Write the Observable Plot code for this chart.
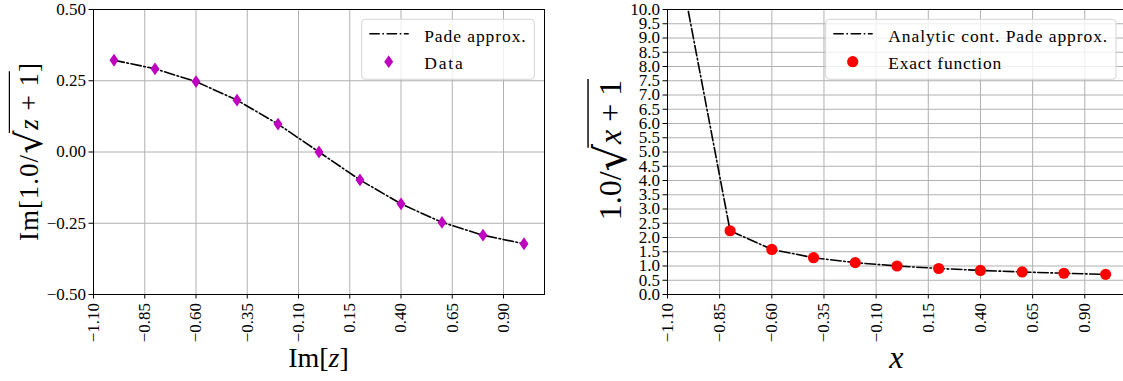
<!DOCTYPE html>
<html>
<head>
<meta charset="utf-8">
<script src="https://cdn.jsdelivr.net/npm/d3@7"></script>
<script src="https://cdn.jsdelivr.net/npm/@observablehq/plot@0.6"></script>
<style>
  body { margin: 0; background: #fff; }
  #fig { position: relative; width: 1123px; height: 381px; overflow: hidden; background: #fff; }
  #fig svg { position: absolute; top: 0; overflow: visible; }
  #fig text { font-family: "Liberation Serif", "Times New Roman", serif; }
  #fig tspan.rad { font-family: "DejaVu Serif", serif; }
</style>
</head>
<body>
<div id="fig"></div>
<script>
// ---- data: imaginary-axis sample (left panel) ----
const imZ    = [-1.0, -0.8, -0.6, -0.4, -0.2, 0.0, 0.2, 0.4, 0.6, 0.8, 1.0];
const imData = [0.322, 0.292, 0.247, 0.182, 0.098, 0.0, -0.098, -0.182, -0.247, -0.292, -0.322];
const imPade = [0.322, 0.292, 0.247, 0.182, 0.098, 0.0, -0.098, -0.182, -0.247, -0.292, -0.322];

// ---- data: real-axis continuation (right panel) ----
const xExact    = [-0.8, -0.6, -0.4, -0.2, 0.0, 0.2, 0.4, 0.6, 0.8, 1.0];
const exactVals = [2.236, 1.581, 1.291, 1.118, 1.0, 0.913, 0.845, 0.791, 0.745, 0.707];
const xPade     = [-1.0, -0.8, -0.6, -0.4, -0.2, 0.0, 0.2, 0.4, 0.6, 0.8, 1.0];
const padeVals  = [9.93, 2.236, 1.581, 1.291, 1.118, 1.0, 0.913, 0.845, 0.791, 0.745, 0.707];

// ---- tick labels ----
const xTicks      = [-1.10, -0.85, -0.60, -0.35, -0.10, 0.15, 0.40, 0.65, 0.90];
const leftYTicks  = [-0.50, -0.25, 0.00, 0.25, 0.50];
const rightYTicks = [0.0, 0.5, 1.0, 1.5, 2.0, 2.5, 3.0, 3.5, 4.0, 4.5, 5.0, 5.5, 6.0, 6.5,
                     7.0, 7.5, 8.0, 8.5, 9.0, 9.5, 10.0];

// ---- legend labels ----
const leftLegend  = ["Pade approx.", "Data"];
const rightLegend = ["Analytic cont. Pade approx.", "Exact function"];

const FONT = "Liberation Serif, Times New Roman, serif";
const DASH = "10.5,2.6,1.6,2.6";
const GRID = "#b0b0b0";
const MAGENTA = "#bf00bf";
const RED = "#ff0000";

const imRows = imZ.map((z, i) => ({z, data: imData[i], pade: imPade[i]}));
const exactRows = xExact.map((x, i) => ({x, y: exactVals[i]}));
const padeRows = xPade.map((x, i) => ({x, y: padeVals[i]}));

// narrow diamond marker (taller than wide)
const thinDiamond = {
  draw(ctx, size) {
    const r = Math.sqrt(size / Math.PI);
    const w = r * 0.7;
    ctx.moveTo(0, -r);
    ctx.lineTo(w, 0);
    ctx.lineTo(0, r);
    ctx.lineTo(-w, 0);
    ctx.closePath();
  }
};

const fmt2 = d3.format(".2f");
const fmt1 = d3.format(".1f");

function axes(yTicks, yFmt) {
  return [
    Plot.gridX(xTicks, {stroke: GRID, strokeOpacity: 1, strokeWidth: 1}),
    Plot.gridY(yTicks, {stroke: GRID, strokeOpacity: 1, strokeWidth: 1}),
    Plot.axisX(xTicks, {tickFormat: fmt2, tickRotate: -90, tickSize: 4.5, tickPadding: 4,
                        fontSize: 17, fontFamily: FONT, label: null, stroke: "#000"}),
    Plot.axisY(yTicks, {tickFormat: yFmt, tickSize: 4.5, tickPadding: 3,
                        fontSize: 17, fontFamily: FONT, label: null, stroke: "#000"}),
    Plot.frame({stroke: "#000", strokeWidth: 1})
  ];
}

const left = Plot.plot({
  width: 560, height: 381,
  marginLeft: 93, marginRight: 16, marginTop: 9, marginBottom: 87,
  style: {fontFamily: FONT, fontSize: "17px", color: "#000", background: "transparent"},
  x: {domain: [-1.1, 1.1]},
  y: {domain: [-0.5, 0.5]},
  marks: [
    ...axes(leftYTicks, fmt2),
    Plot.line(imRows, {x: "z", y: "pade", stroke: "#000", strokeWidth: 1.6, strokeDasharray: DASH}),
    Plot.dot(imRows, {x: "z", y: "data", symbol: thinDiamond, r: 6.4, fill: MAGENTA, stroke: "none"})
  ]
});

const right = Plot.plot({
  width: 580, height: 381,
  marginLeft: 107, marginRight: 14, marginTop: 9, marginBottom: 87,
  style: {fontFamily: FONT, fontSize: "17px", color: "#000", background: "transparent"},
  x: {domain: [-1.1, 1.1]},
  y: {domain: [0, 10]},
  marks: [
    ...axes(rightYTicks, fmt1),
    Plot.line(padeRows, {x: "x", y: "y", stroke: "#000", strokeWidth: 1.6, strokeDasharray: DASH}),
    Plot.dot(exactRows, {x: "x", y: "y", r: 5.6, fill: RED, stroke: "none"})
  ]
});

const fig = document.getElementById("fig");
left.style.left = "0px";
right.style.left = "560px";
fig.append(left, right);

// ---- legend boxes ----
function legend(svgNode, bx, entries, textLengths) {
  const svg = d3.select(svgNode);
  const g = svg.append("g").attr("text-anchor", "start");
  const by = 19.3, bw = entries.w, bh = 60;
  g.append("rect").attr("x", bx).attr("y", by).attr("width", bw).attr("height", bh)
    .attr("rx", 3.5).attr("fill", "#fff").attr("fill-opacity", 0.8)
    .attr("stroke", "#d5d5d5").attr("stroke-width", 1);
  // line sample
  g.append("line").attr("x1", bx + 7.6).attr("x2", bx + 47).attr("y1", by + 14.5).attr("y2", by + 14.5)
    .attr("stroke", "#000").attr("stroke-width", 1.6).attr("stroke-dasharray", DASH);
  // marker sample
  const cx = bx + 27, cy = by + 42.4;
  if (entries.marker === "diamond") {
    const r = 6.4, w = r * 0.7;
    g.append("path").attr("d", `M${cx},${cy - r}L${cx + w},${cy}L${cx},${cy + r}L${cx - w},${cy}Z`)
      .attr("fill", MAGENTA);
  } else {
    g.append("circle").attr("cx", cx).attr("cy", cy).attr("r", 5.6).attr("fill", RED);
  }
  entries.labels.forEach((t, i) => {
    g.append("text").attr("x", bx + 62.5).attr("y", by + 22.4 + i * 27)
      .attr("text-anchor", "start")
      .attr("font-size", 17.5).attr("fill", "#000")
      .attr("textLength", textLengths[i]).attr("lengthAdjust", "spacing")
      .text(t);
  });
}
legend(left, 361.7, {w: 172.6, marker: "diamond", labels: leftLegend}, [101.5, 38.5]);
legend(right, 265.7, {w: 290.3, marker: "circle", labels: rightLegend}, [219, 113]);

// ---- math axis labels ----
function mathLabel(svgNode, {x, y, rotate = 0, size, parts, over, spacing = 0}) {
  const g = d3.select(svgNode).append("g").attr("transform", `translate(${x},${y}) rotate(${rotate})`);
  const t = g.append("text").attr("text-anchor", "middle")
    .attr("font-size", size).attr("fill", "#000").attr("letter-spacing", spacing);
  let idx = 0, radIdx = null, lastOver = null;
  let carry = 0;
  for (const p of parts) {
    const s = t.append("tspan").text(p.t);
    if (p.italic) s.attr("font-style", "italic");
    let dy = -carry;
    carry = 0;
    if (p.rad) {
      s.attr("class", "rad").attr("font-size", size * p.rad.scale);
      dy += p.rad.dy;
      carry = p.rad.dy;
      radIdx = idx;
    }
    if (dy) s.attr("dy", dy);
    if (p.over) lastOver = idx + p.t.length - 1;
    idx += p.t.length;
  }
  if (radIdx != null && lastOver != null) {
    const node = t.node();
    const x0 = node.getEndPositionOfChar(radIdx).x - size * 0.12;
    const x1 = node.getEndPositionOfChar(lastOver).x + size * 0.02;
    g.append("line").attr("x1", x0).attr("x2", x1).attr("y1", -over * size).attr("y2", -over * size)
      .attr("stroke", "#000").attr("stroke-width", size * 0.045);
  }
}

// Im[1.0/sqrt(z+1)]
mathLabel(left, {
  x: 38, y: 151.5, rotate: -90, size: 27, over: 1.06, spacing: 1,
  parts: [
    {t: "Im[1.0/"},
    {t: "\u221A", rad: {scale: 1.35, dy: 4}},
    {t: "z", italic: true, over: true},
    {t: " + 1", over: true},
    {t: "]"}
  ]
});
// Im[z]
mathLabel(left, {
  x: 318.5, y: 366.5, size: 28,
  parts: [{t: "Im["}, {t: "z", italic: true}, {t: "]"}]
});
// 1.0/sqrt(x+1)
mathLabel(right, {
  x: 61, y: 150, rotate: -90, size: 32, over: 1.03, spacing: 0,
  parts: [
    {t: "1.0/"},
    {t: "\u221A", rad: {scale: 1.35, dy: 5}},
    {t: "x", italic: true, over: true},
    {t: " + 1", over: true}
  ]
});
// x
mathLabel(right, {
  x: 336.3, y: 368, size: 32,
  parts: [{t: "x", italic: true}]
});
</script>
</body>
</html>
